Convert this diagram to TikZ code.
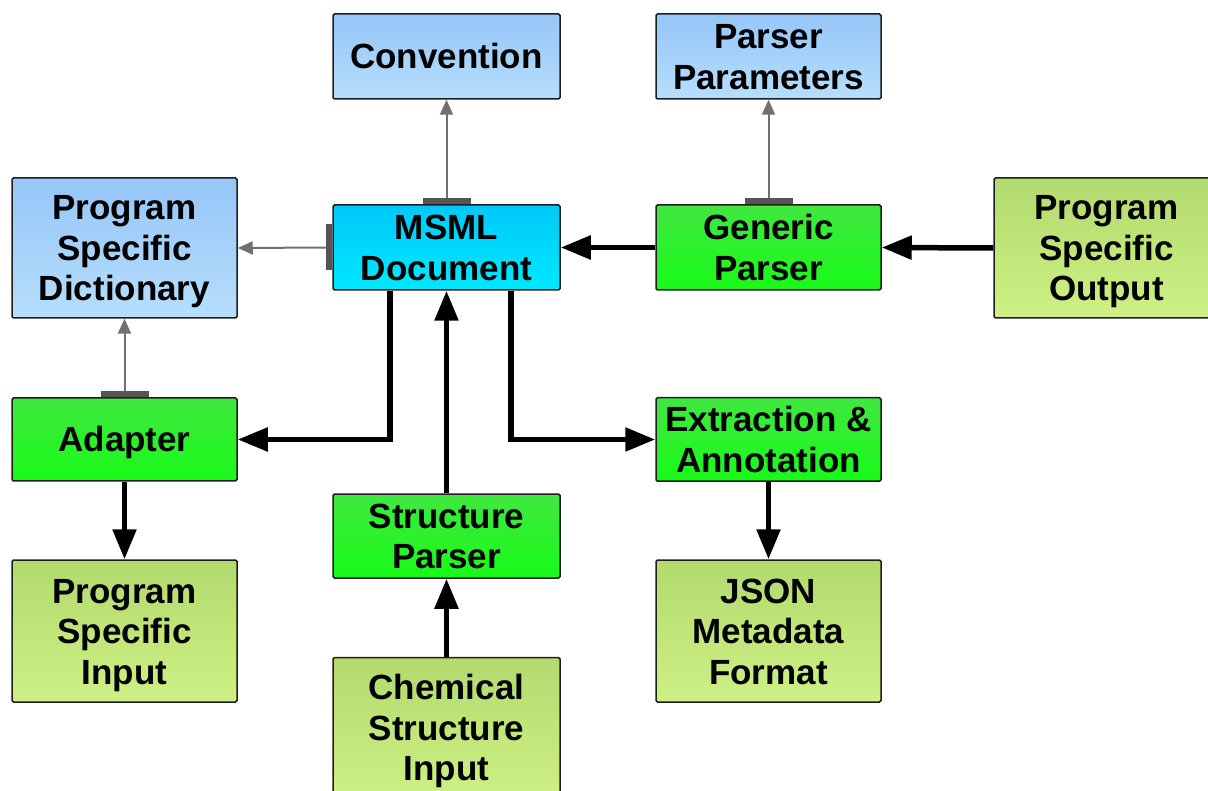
\documentclass[tikz,border=0pt]{standalone}
\usepackage{fontspec}
\setmainfont{Liberation Sans}
\usetikzlibrary{arrows.meta}

\definecolor{bluetop}{RGB}{150,198,248}
\definecolor{bluebot}{RGB}{182,222,252}
\definecolor{cyantop}{RGB}{0,200,248}
\definecolor{cyanbot}{RGB}{0,232,255}
\definecolor{greentop}{RGB}{64,232,64}
\definecolor{greenbot}{RGB}{24,250,24}
\definecolor{olivetop}{RGB}{178,218,110}
\definecolor{olivebot}{RGB}{206,240,132}
\definecolor{boxline}{RGB}{30,30,30}
\definecolor{thinline}{RGB}{112,112,112}
\definecolor{barcol}{RGB}{85,85,85}

% struts keep the cap height of the lines centred in every box
\newcommand{\topstrut}{\rule{0pt}{34pt}}
\newcommand{\botstrut}{\rule[-9pt]{0pt}{9pt}}

\tikzset{
  box/.style={draw=boxline, line width=1.5pt, rounded corners=1.5pt,
    inner sep=0pt, align=center,
    font=\fontsize{35}{40.5}\selectfont\bfseries},
  bluebox/.style={box, top color=bluetop, bottom color=bluebot},
  cyanbox/.style={box, top color=cyantop, bottom color=cyanbot},
  greenbox/.style={box, top color=greentop, bottom color=greenbot},
  olivebox/.style={box, top color=olivetop, bottom color=olivebot},
  flow/.style={line width=5.5pt, black,
    -{Triangle[length=30pt,width=23pt]}},
  link/.style={line width=2pt, thinline,
    -{Triangle[length=15pt,width=13pt]}},
  bar/.style={fill=barcol}
}

\begin{document}
\begin{tikzpicture}[x=1pt,y=-1pt]
\useasboundingbox (0,0) rectangle (1208,791);
\begin{scope}
\clip (0,0) rectangle (1208,791);

% boxes
\node[bluebox, minimum width=227pt, minimum height=85pt] (conv) at (446.5,56.5) {\topstrut Convention\botstrut};
\node[bluebox, minimum width=225pt, minimum height=85pt] (pparam) at (768.5,56.5) {\topstrut Parser\\Parameters\botstrut};
\node[bluebox, minimum width=225pt, minimum height=140pt] (dict) at (124.5,248) {\topstrut Program\\Specific\\Dictionary\botstrut};
\node[cyanbox, minimum width=227pt, minimum height=85pt] (msml) at (446.5,247.5) {\topstrut MSML\\Document\botstrut};
\node[greenbox, minimum width=225pt, minimum height=85pt] (gparser) at (768.5,247.5) {\topstrut Generic\\Parser\botstrut};
\node[olivebox, minimum width=225pt, minimum height=140pt] (pout) at (1106.5,248) {\topstrut Program\\Specific\\Output\botstrut};
\node[greenbox, minimum width=225pt, minimum height=83pt] (adapter) at (124.5,439.5) {\topstrut Adapter\botstrut};
\node[greenbox, minimum width=225pt, minimum height=83pt] (extr) at (768.5,439.5) {\topstrut Extraction \&\\Annotation\botstrut};
\node[greenbox, minimum width=227pt, minimum height=84pt] (sparser) at (446.5,536) {\topstrut Structure\\Parser\botstrut};
\node[olivebox, minimum width=225pt, minimum height=142pt] (pin) at (124.5,631) {\topstrut Program\\Specific\\Input\botstrut};
\node[olivebox, minimum width=225pt, minimum height=142pt] (json) at (768.5,631) {\topstrut JSON\\Metadata\\Format\botstrut};
\node[olivebox, minimum width=227pt, minimum height=140pt] (chem) at (446.5,727.5) {\topstrut Chemical\\Structure\\Input\botstrut};

% thin links with their port bars
\draw[link] (msml.north) -- (conv.south);
\fill[bar] ([xshift=-24pt]msml.north) rectangle ([xshift=24pt,yshift=6pt]msml.north);
\draw[link] (gparser.north) -- (pparam.south);
\fill[bar] ([xshift=-24pt]gparser.north) rectangle ([xshift=24pt,yshift=6pt]gparser.north);
\draw[link] (msml.west) -- (dict.east);
\fill[bar] ([yshift=-23pt]msml.west) rectangle ([xshift=-6pt,yshift=23pt]msml.west);
\draw[link] (adapter.north) -- (dict.south);
\fill[bar] ([xshift=-24pt]adapter.north) rectangle ([xshift=24pt,yshift=6pt]adapter.north);

% main data flow
\draw[flow] (pout.west) -- (gparser.east);
\draw[flow] (gparser.west) -- (msml.east);
\draw[flow] (sparser.north) -- (msml.south);
\draw[flow] (chem.north) -- (sparser.south);
\draw[flow] ([xshift=-56.5pt]msml.south) |- (adapter.east);
\draw[flow] ([xshift=64.5pt]msml.south) |- (extr.west);
\draw[flow] (adapter.south) -- (pin.north);
\draw[flow] (extr.south) -- (json.north);
\end{scope}
\end{tikzpicture}
\end{document}
